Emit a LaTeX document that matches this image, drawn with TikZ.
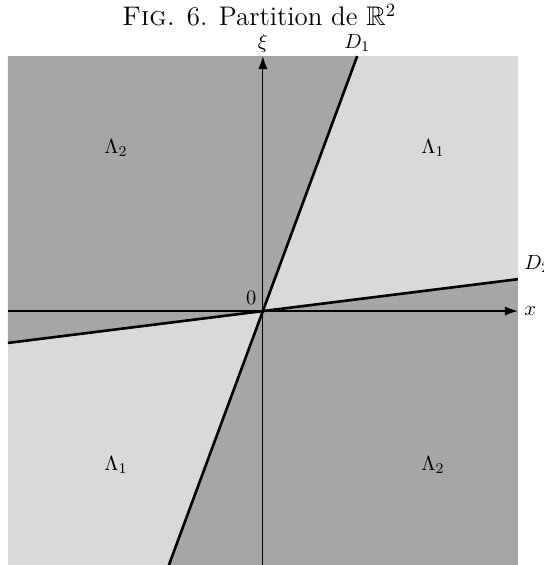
\documentclass[tikz,border=0pt]{standalone}
\usepackage{amsmath,amssymb}
\usepackage{tikz}
\usetikzlibrary{arrows.meta}
\definecolor{fonce}{gray}{0.65}
\definecolor{clair}{gray}{0.85}
\tikzset{
    axe/.style={->,line width=0.6pt,>={Latex[length=7pt,width=5pt]}},
    droite/.style={line width=1.4pt,black},
    region/.style={font=\fontsize{10.95}{13}\selectfont}
}

\begin{document}
\begin{tikzpicture}[x=4.8cm,y=4.8cm,font=\fontsize{10.95}{13}\selectfont]
\useasboundingbox (-1.031,-0.996) rectangle (1.102,1.220);
% les quatre secteurs
\fill[clair] (-1,-1) rectangle (1,1);
\fill[fonce] (0,0) -- (0.37,1) -- (-1,1) -- (-1,-0.125) -- cycle;
\fill[fonce] (0,0) -- (-0.37,-1) -- (1,-1) -- (1,0.125) -- cycle;

\coordinate (O) at (0,0);
\coordinate (xg) at (-1,0);
\coordinate (xd) at (1,0);
\coordinate (yb) at (0,-1);
\coordinate (yh) at (0,1);
\coordinate (d1b) at (-0.37,-1);
\coordinate (d1h) at (0.37,1);
\coordinate (d2g) at (-1,-0.125);
\coordinate (d2d) at (1,0.125);

\draw[axe] (xg) -- (xd);
\draw[axe] (yb) -- (yh);
\draw[droite] (d1b) -- (d1h);
\draw[droite] (d2g) -- (d2d);

\node[above,inner sep=2pt] (xi) at (yh) {$\xi$};
\node[right] (x) at (xd) {$x$};
\node[above left] (zero) at (O) {$0$};
\node[above,inner sep=2pt] (D1) at (d1h) {$D_1$};
\node[above right] (D2) at (d2d) {$D_2$};

\node[region] (L2h) at (-0.576,0.64) {$\Lambda_2$};
\node[region] (L1h) at (0.667,0.64) {$\Lambda_1$};
\node[region] (L1b) at (-0.576,-0.604) {$\Lambda_1$};
\node[region] (L2b) at (0.667,-0.604) {$\Lambda_2$};

\node[font=\Large,inner sep=0.5pt] (titre) at (-0.015,1.16) {\textsc{Fig.} 6. Partition de $\mathbb{R}^2$};
\end{tikzpicture}
\end{document}
